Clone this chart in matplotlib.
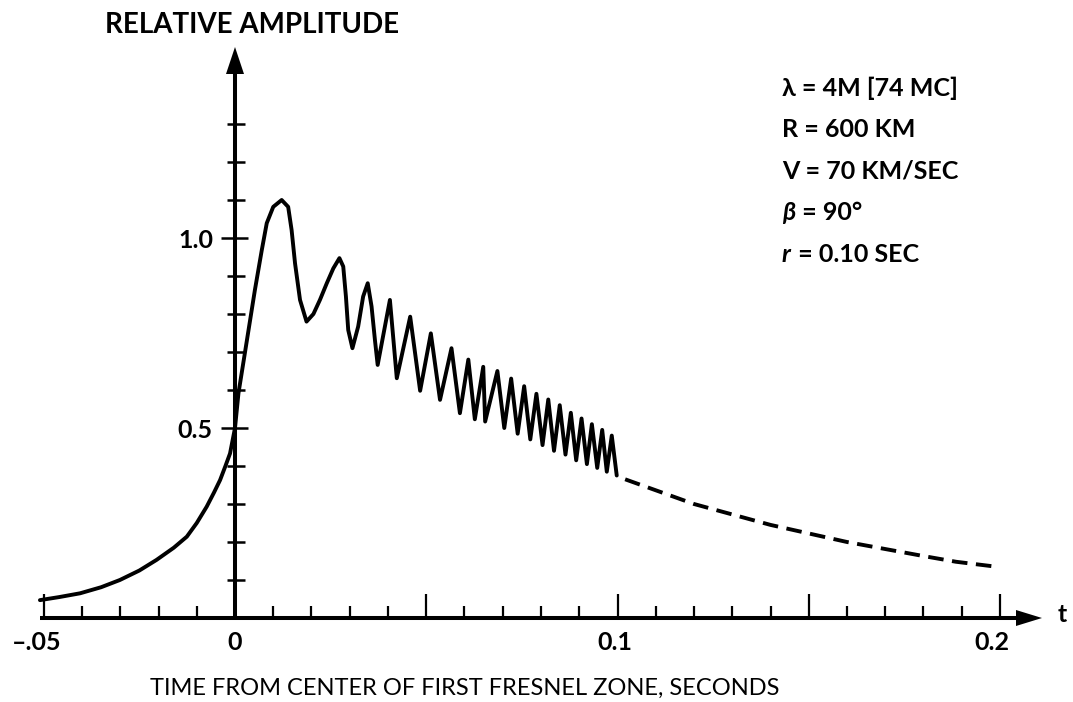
import matplotlib
matplotlib.use("Agg")
import matplotlib.pyplot as plt
from matplotlib.patches import Polygon

# ---- data: relative amplitude of the echo vs time (s) ----
# rising part before the center of the first Fresnel zone
t_rise = [-0.051, -0.046, -0.0405, -0.035, -0.0301, -0.025, -0.0205, -0.016, -0.0126,
          -0.010, -0.0074, -0.0055, -0.0039, -0.0025, -0.0013, 0.0]
a_rise = [0.047, 0.055, 0.065, 0.081, 0.100, 0.125, 0.153, 0.185, 0.214,
          0.250, 0.293, 0.330, 0.363, 0.400, 0.433, 0.500]

# Fresnel oscillations
t_osc = [0.0, 0.0009, 0.0031, 0.0052, 0.0070, 0.0083, 0.0100, 0.0122, 0.0139, 0.0148,
         0.0157, 0.0170, 0.0187, 0.0205, 0.0222, 0.0240, 0.0257, 0.0273, 0.0283,
         0.0290, 0.0296, 0.0307, 0.0322, 0.0335, 0.0347, 0.0357, 0.0366, 0.0373,
         0.0405, 0.0423, 0.0458, 0.0484, 0.0512, 0.0536,
         0.0566, 0.0588, 0.0610, 0.0627, 0.0649, 0.0654,
         0.0686, 0.0704, 0.0722, 0.0739, 0.0756, 0.0772, 0.0788, 0.0804,
         0.0819, 0.0834, 0.0849, 0.0864, 0.0878, 0.0892, 0.0906, 0.0920,
         0.0933, 0.0947, 0.0960, 0.0972, 0.0985, 0.0998]
a_osc = [0.500, 0.591, 0.730, 0.863, 0.968, 1.039, 1.082, 1.100, 1.082, 1.021,
         0.933, 0.837, 0.780, 0.800, 0.837, 0.881, 0.920, 0.947, 0.925,
         0.846, 0.758, 0.710, 0.767, 0.846, 0.881, 0.820, 0.730, 0.666,
         0.837, 0.631, 0.793, 0.598, 0.749, 0.574,
         0.710, 0.539, 0.680, 0.523, 0.661, 0.517,
         0.650, 0.500, 0.630, 0.485, 0.610, 0.470, 0.590, 0.455,
         0.575, 0.440, 0.560, 0.430, 0.540, 0.415, 0.525, 0.405,
         0.510, 0.395, 0.495, 0.385, 0.480, 0.375]

# smoothed decay beyond 0.1 s
t_tail = [0.102, 0.120, 0.140, 0.160, 0.180, 0.1885, 0.199]
a_tail = [0.365, 0.300, 0.245, 0.200, 0.163, 0.148, 0.135]

# axis annotation
x_minor = [round(-0.05 + 0.01 * i, 2) for i in range(26)]
x_major = [-0.05, 0.0, 0.05, 0.1, 0.15, 0.2]
x_labels = {-0.05: "\u2013.05", 0.0: "0", 0.1: "0.1", 0.2: "0.2"}
y_minor = [round(0.1 * i, 1) for i in range(1, 14)]
y_labels = {0.5: "0.5", 1.0: "1.0"}
# parameter block: (italic symbol, rest of the line)
params = [("", "\u03bb = 4M [74 MC]"), ("", "R = 600 KM"), ("", "V = 70 KM/SEC"),
          ("\u03b2", " = 90\u00b0"), ("r", " = 0.10 SEC")]

# ---- figure ----
W, H = 1073, 702
fig = plt.figure(figsize=(W / 100, H / 100), dpi=100)
ax = fig.add_axes([0, 0, 1, 1])
SX, SY = 3825.0, 380.0          # pixels per data unit
X0, Y0 = 235.0, 618.0           # pixel position of the origin
ax.set_xlim(-X0 / SX, (W - X0) / SX)
ax.set_ylim(-(H - Y0) / SY, Y0 / SY)
ax.axis("off")


def px(p):
    return p / SX


def py(p):
    return p / SY


K = "black"
AX_LW = 2.9

# axes lines
x_end = (1020 - X0) / SX
ax.plot([-0.051, x_end], [0, 0], color=K, lw=AX_LW, solid_capstyle="butt")
y_top = (Y0 - 70) / SY
ax.plot([0, 0], [0, y_top], color=K, lw=AX_LW, solid_capstyle="butt")

# arrow heads
ax.add_patch(Polygon([[(1042 - X0) / SX, 0], [(1016 - X0) / SX, py(8)],
                      [(1016 - X0) / SX, -py(8)]], closed=True, color=K, lw=0))
ax.add_patch(Polygon([[0, (Y0 - 47) / SY], [-px(9), (Y0 - 74) / SY],
                      [px(9), (Y0 - 74) / SY]], closed=True, color=K, lw=0))

# x ticks (upward)
for x in x_minor:
    if abs(x) < 1e-9:
        continue
    h = 24 if x in x_major else 12
    ax.plot([x, x], [0, py(h)], color=K, lw=1.6, solid_capstyle="butt")

# y ticks (crossing the axis)
for y in y_minor:
    if y in y_labels:
        ax.plot([-px(14), px(13)], [y, y], color=K, lw=1.8, solid_capstyle="butt")
    else:
        ax.plot([-px(8), px(10)], [y, y], color=K, lw=1.8, solid_capstyle="butt")

FONT = ["Lato", "DejaVu Sans"]
x_shift = {-0.05: -7, 0.0: 0, 0.1: -3, 0.2: -8}
for x, s in x_labels.items():
    ax.text(x + px(x_shift[x]), -py(24), s, ha="center", va="center", fontsize=18,
            fontweight="bold", family=FONT)
for y, s in y_labels.items():
    ax.text(-px(22), y - py(3), s, ha="right", va="center", fontsize=18,
            fontweight="bold", family=FONT)

# curve
CLW = 2.8
ax.plot(t_rise, a_rise, color=K, lw=CLW, solid_joinstyle="round", solid_capstyle="round")
ax.plot(t_osc, a_osc, color=K, lw=CLW, solid_joinstyle="round", solid_capstyle="round")
ax.plot(t_tail, a_tail, color=K, lw=CLW, dashes=(4, 2.2))

# titles
fig.text(252 / W, 1 - 25 / H, "RELATIVE AMPLITUDE", ha="center", va="center",
         fontsize=20, fontweight="bold", family=FONT)
fig.text(465 / W, 1 - 688 / H, "TIME FROM CENTER OF FIRST FRESNEL ZONE, SECONDS",
         ha="center", va="center", fontsize=17, family=FONT)
fig.text(1058 / W, 1 - 614 / H, "t", ha="left", va="center", fontsize=18,
         fontweight="bold", family=FONT)

# parameter block: italic symbol followed by upright text
renderer = fig.canvas.get_renderer()
for i, (sym, rest) in enumerate(params):
    yy = 1 - (88 + 41.5 * i) / H
    x_left = 782 / W
    if sym:
        t_sym = fig.text(x_left, yy, sym, ha="left", va="center", fontsize=18,
                         fontweight="bold", style="italic", family=FONT)
        bb = t_sym.get_window_extent(renderer=renderer)
        x_left = bb.x1 / (W) + 1.0 / W
    fig.text(x_left, yy, rest, ha="left", va="center", fontsize=18,
             fontweight="bold", family=FONT)

fig.savefig("out.png", dpi=100)
